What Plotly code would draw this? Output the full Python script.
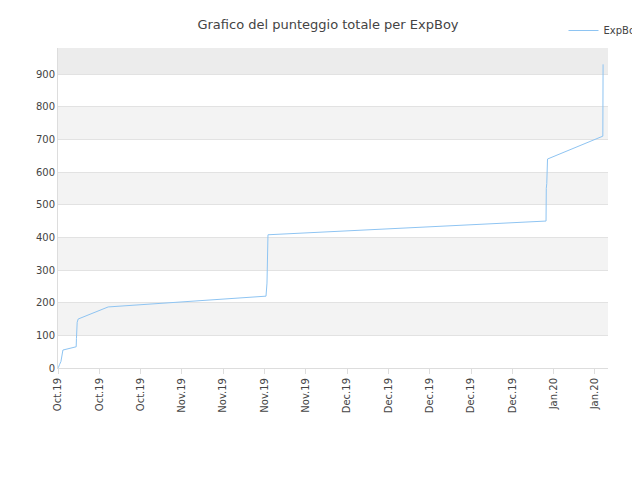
import plotly.graph_objects as go

dates = ["2019-10-14 00:00", "2019-10-14 02:00", "2019-10-14 06:00", "2019-10-14 12:00",
         "2019-10-14 20:00", "2019-10-17 02:00", "2019-10-17 03:00", "2019-10-17 06:00",
         "2019-10-17 10:00", "2019-10-22 12:00", "2019-11-18 06:00", "2019-11-18 10:00",
         "2019-11-18 14:00", "2020-01-04 17:00", "2020-01-04 18:00", "2020-01-04 20:00",
         "2020-01-04 23:00", "2020-01-14 08:00", "2020-01-14 09:00"]
scores = [0, 2, 10, 20, 55, 65, 90, 140, 150, 187, 220, 260, 408, 450, 550, 565, 640, 710, 930]

tick_dates = ["2019-10-14", "2019-10-21", "2019-10-28", "2019-11-04", "2019-11-11",
              "2019-11-18", "2019-11-25", "2019-12-02", "2019-12-09", "2019-12-16",
              "2019-12-23", "2019-12-30", "2020-01-06", "2020-01-13"]
tick_labels = ["Oct.19", "Oct.19", "Oct.19", "Nov.19", "Nov.19", "Nov.19", "Nov.19",
               "Dec.19", "Dec.19", "Dec.19", "Dec.19", "Dec.19", "Jan.20", "Jan.20"]

fig = go.Figure()
fig.add_trace(go.Scatter(x=dates, y=scores, mode="lines", name="ExpBoy",
                         line=dict(color="#8ec4f2", width=1)))

# alternating bands
bands = [(100, 200, "#f3f3f3"), (300, 400, "#f3f3f3"), (500, 600, "#f3f3f3"),
         (700, 800, "#f3f3f3"), (900, 980, "#ececec")]
for y0, y1, c in bands:
    fig.add_shape(type="rect", xref="paper", x0=0, x1=1, y0=y0, y1=y1,
                  fillcolor=c, line_width=0, layer="below")

fig.update_layout(
    width=640, height=480,
    title=dict(text="Grafico del punteggio totale per ExpBoy", x=0.5, y=0.975,
               font=dict(size=13, color="#444")),
    font=dict(family="DejaVu Sans", size=10, color="#444"),
    paper_bgcolor="white", plot_bgcolor="white",
    margin=dict(l=50, r=40, t=40, b=120, autoexpand=False),
    legend=dict(x=1.07, y=1.1, xanchor="right", yanchor="top", bgcolor="rgba(0,0,0,0)",
                font=dict(size=10)),
    showlegend=True,
)
fig.update_xaxes(range=["2019-10-14", "2020-01-15 05:00"], tickvals=tick_dates,
                 ticktext=tick_labels, tickangle=-90, showgrid=False,
                 showline=True, linecolor="#ddd", ticks="outside", tickcolor="#ddd")
fig.update_yaxes(range=[0, 980], dtick=100, gridcolor="#e2e2e2", zeroline=False,
                 showline=True, linecolor="#ddd")

fig.write_html("out.html")
